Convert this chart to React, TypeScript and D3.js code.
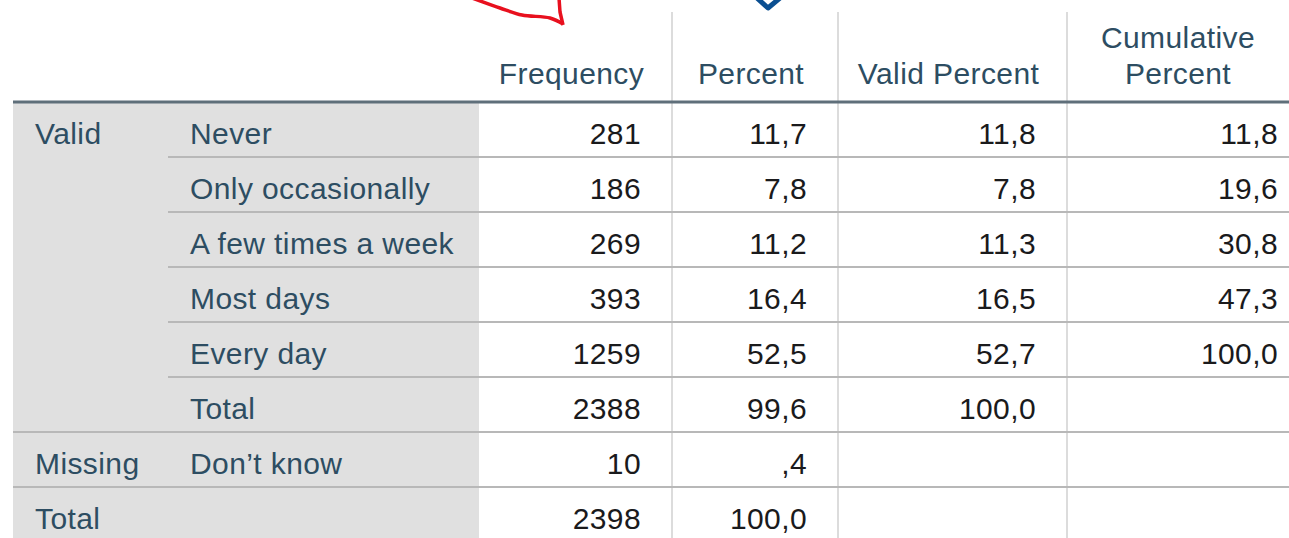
import React from "react";
import * as d3 from "d3";

const groups = ["Valid", "Valid", "Valid", "Valid", "Valid", "Valid", "Missing", "Total"];
const categories = ["Never", "Only occasionally", "A few times a week", "Most days", "Every day", "Total", "Don’t know", ""];
const frequency: (number | null)[] = [281, 186, 269, 393, 1259, 2388, 10, 2398];
const percent: (number | null)[] = [11.7, 7.8, 11.2, 16.4, 52.5, 99.6, 0.4, 100.0];
const validPercent: (number | null)[] = [11.8, 7.8, 11.3, 16.5, 52.7, 100.0, null, null];
const cumulativePercent: (number | null)[] = [11.8, 19.6, 30.8, 47.3, 100.0, null, null, null];
const columnHeaders = [["Frequency"], ["Percent"], ["Valid Percent"], ["Cumulative", "Percent"]];

const W = 1289;
const H = 538;
const HEADER_LINE = 102;
const ROW_H = 55;
const LEFT = 13;
const SUB_X = 168;
const DATA_X = 479;
const colEdges = [479, 672, 838, 1067, 1309];

const HEAD = "#2d4d62";
const BODY = "#1a1a1c";
const FONT = "'Liberation Sans', Arial, sans-serif";
const FS = 30;
const LS = 0.4;

const fmtPct = (v: number | null) => {
  if (v === null) return "";
  let s = d3.format(".1f")(v).replace(".", ",");
  if (s.startsWith("0,")) s = s.slice(1);
  return s;
};
const fmtInt = (v: number | null) => (v === null ? "" : String(v));

export default function App() {
  const rowIdx = d3.range(categories.length);
  const y = d3
    .scaleBand<number>()
    .domain(rowIdx)
    .range([HEADER_LINE + 1, HEADER_LINE + 1 + ROW_H * categories.length]);

  const columns = [frequency.map(fmtInt), percent.map(fmtPct), validPercent.map(fmtPct), cumulativePercent.map(fmtPct)];

  const redLine = d3.line().curve(d3.curveCatmullRom)([
    [472, -2],
    [500, 8],
    [522, 15],
    [550, 18],
    [563, 24],
  ]);
  const redLine2 = d3.line()([
    [563, 25],
    [560, 12],
    [559, -2],
  ]);
  const blueLine = d3.line()([
    [757, -2],
    [768, 8],
    [780, -2],
  ]);

  return (
    <div style={{ position: "absolute", left: 0, top: 0 }}>
      <svg width={W} height={H} style={{ display: "block", background: "#fff" }}>
        <rect x={LEFT} y={HEADER_LINE} width={DATA_X - LEFT} height={H - HEADER_LINE} fill="#e0e0e0" />

        {colEdges.slice(1, -1).map((x) => (
          <line key={x} x1={x} x2={x} y1={12} y2={H} stroke="#dcdcdc" strokeWidth={2} />
        ))}

        {rowIdx.slice(1).map((i) => {
          const yy = y(i)!;
          const groupStart = groups[i] !== groups[i - 1];
          return (
            <line
              key={i}
              x1={groupStart ? LEFT : SUB_X}
              x2={W}
              y1={yy - 1}
              y2={yy - 1}
              stroke="#b8b8b8"
              strokeWidth={2}
            />
          );
        })}

        <line x1={LEFT} x2={W} y1={HEADER_LINE} y2={HEADER_LINE} stroke="#5f6f7a" strokeWidth={3} />

        {columnHeaders.map((lines, c) => {
          const cx = (colEdges[c] + Math.min(colEdges[c + 1], W + 20)) / 2 - 4;
          return lines.map((t, k) => (
            <text
              key={c + "-" + k}
              x={c === 3 ? 1178 : cx}
              y={84 - (lines.length - 1 - k) * 36}
              textAnchor="middle"
              fill={HEAD}
              fontFamily={FONT}
              fontSize={FS}
              letterSpacing={LS}
            >
              {t}
            </text>
          ));
        })}

        {rowIdx.map((i) =>
          i === 0 || groups[i] !== groups[i - 1] ? (
            <text key={"g" + i} x={35} y={y(i)! + 41} fill={HEAD} fontFamily={FONT} fontSize={FS} letterSpacing={LS}>
              {groups[i]}
            </text>
          ) : null
        )}

        {rowIdx.map((i) => (
          <text key={"c" + i} x={190} y={y(i)! + 41} fill={HEAD} fontFamily={FONT} fontSize={FS} letterSpacing={LS}>
            {categories[i]}
          </text>
        ))}

        {columns.map((col, c) =>
          col.map((v, i) => (
            <text
              key={"v" + c + "-" + i}
              x={c === 3 ? 1278 : colEdges[c + 1] - 31}
              y={y(i)! + 41}
              textAnchor="end"
              fill={BODY}
              fontFamily={FONT}
              fontSize={FS}
              letterSpacing={LS}
            >
              {v}
            </text>
          ))
        )}

        <path d={redLine ?? ""} fill="none" stroke="#e8101e" strokeWidth={3.5} strokeLinejoin="round" />
        <path d={redLine2 ?? ""} fill="none" stroke="#e8101e" strokeWidth={3.5} strokeLinejoin="round" />
        <path d={blueLine ?? ""} fill="none" stroke="#0b4f91" strokeWidth={5} strokeLinejoin="round" />
      </svg>
    </div>
  );
}
